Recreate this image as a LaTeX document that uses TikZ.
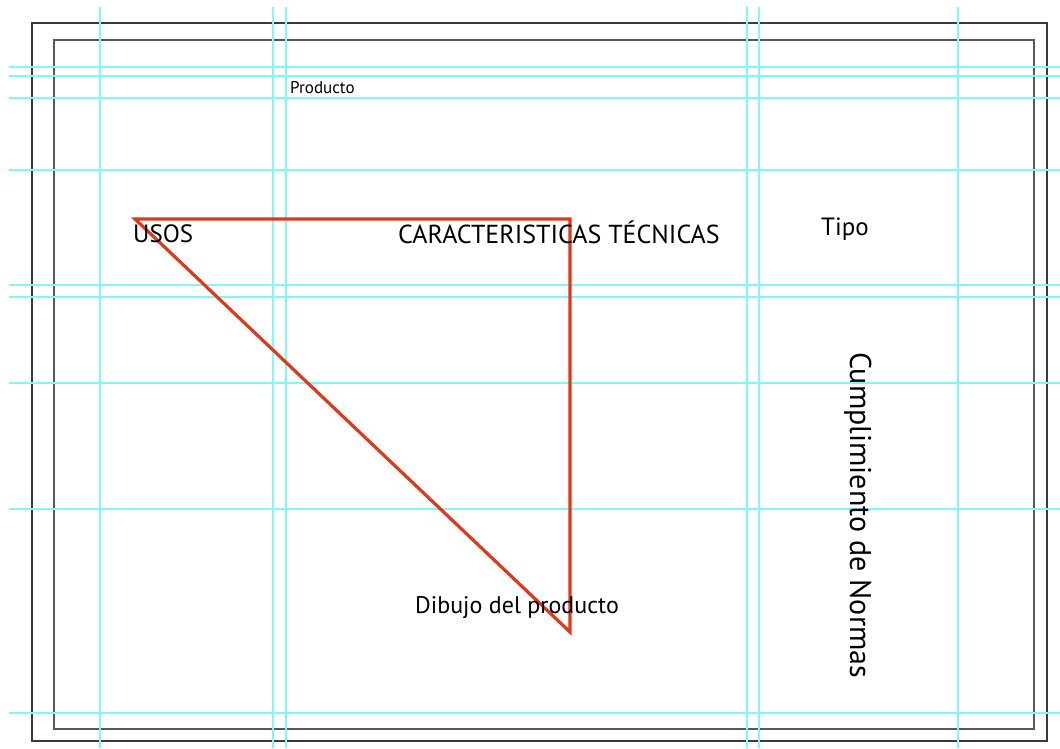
\documentclass[tikz,border=0pt]{standalone}
\usepackage{fontspec}
\setmainfont{PT Sans}
\usetikzlibrary{positioning}

\definecolor{guidecyan}{HTML}{80F8F8}
\definecolor{sketchred}{HTML}{DC3A1C}
\definecolor{framegray}{HTML}{3A3A3A}

\begin{document}
\begin{tikzpicture}[x=1pt, y=-1pt,
  guide/.style={draw=guidecyan, line width=1.1pt},
  frame/.style={draw=framegray, line width=1.3pt},
  sketch/.style={draw=sketchred, line width=3.2pt, line join=miter},
  label/.style={inner sep=0pt, anchor=base west, font=\fontsize{25}{30}\selectfont},
  smalllabel/.style={label, font=\fontsize{17}{20}\selectfont}]
\useasboundingbox (0,0) rectangle (1060,748);
\fill[white] (0,0) rectangle (1060,748);
% page frames
\draw[frame] (32,23) rectangle (1047,741);
\draw[frame, draw=framegray!85] (54,40) rectangle (1034,729);
% guides
\foreach \gx in {100,273,286,747,759,958}
  \draw[guide] (\gx,7) -- (\gx,748);
\foreach \gy in {67,76,98,170,285,297,383,509,713}
  \draw[guide] (9,\gy) -- (1060,\gy);
% sketch triangle
\coordinate (usos corner) at (135,219);
\coordinate (tec corner) at (570,219);
\coordinate (dibujo corner) at (570,632);
\draw[sketch] (usos corner) -- (tec corner) -- (dibujo corner) -- cycle;
% labels
\node[smalllabel] (producto) at (290,93) {Producto};
\node[label] (usos) at (133,242) {USOS};
\node[label, font=\fontsize{26}{30}\selectfont] (tecnicas) at (398,243) {CARACTERISTICAS TÉCNICAS};
\node[label] (tipo) at (821,235) {Tipo};
\node[label, font=\fontsize{24}{30}\selectfont] (dibujo) at (415,613) {Dibujo del producto};
\node[label, font=\fontsize{30}{36}\selectfont, rotate=-90] (normas) at (850,352) {Cumplimiento de Normas};
\end{tikzpicture}
\end{document}
